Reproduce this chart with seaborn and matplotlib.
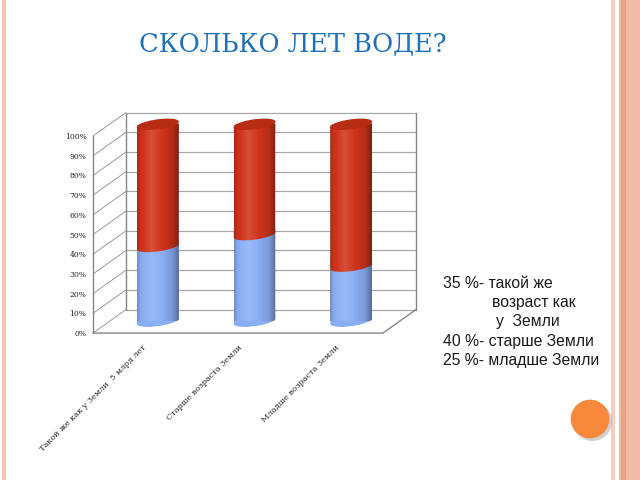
import matplotlib
matplotlib.use("Agg")
import matplotlib.pyplot as plt
from matplotlib.patches import Polygon, Rectangle, Circle
import numpy as np
import pandas as pd
import seaborn as sns

title = "СКОЛЬКО ЛЕТ ВОДЕ?"
categories = ["Такой же как у Земли  5 млрд лет", "Старше возраста Земли", "Младше возраста Земли"]
blue_share = [38, 44, 28]
red_share = [62, 56, 72]
y_ticks = list(range(0, 101, 10))
y_tick_labels = [f"{t}%" for t in y_ticks]
notes = ["35 %- такой же", "возраст как", "у  Земли", "40 %- старше Земли", "25 %- младше Земли"]
note_indent = [0, 49, 53, 0, 0]

BLUE = "#8AAEF5"
RED = "#CF331A"
RED_TOP = "#B62C14"
TITLE_BLUE = "#1F70B8"

W, H = 640, 480
sns.set_theme(style="white")
plt.rcParams["font.family"] = ["DejaVu Serif"]

fig = plt.figure(figsize=(6.4, 4.8), dpi=100)
fig.patch.set_facecolor("white")

# the axes is the middle (depth) plane of the 3d box, in slide pixels
x_left, x_right, y_zero, y_full = 109.5, 399.5, 321.3, 124.3
ax = fig.add_axes([x_left / W, 1 - y_zero / H, (x_right - x_left) / W, (y_zero - y_full) / H])

df = pd.DataFrame({"cat": categories, "blue": blue_share, "red": red_share})
df["total"] = df["blue"] + df["red"]

bar_w = 0.434
sns.barplot(data=df, x="cat", y="total", color=RED, saturation=1, width=bar_w,
            errorbar=None, linewidth=0, edgecolor="none", ax=ax, zorder=3)
sns.barplot(data=df, x="cat", y="blue", color=BLUE, saturation=1, width=bar_w,
            errorbar=None, linewidth=0, edgecolor="none", ax=ax, zorder=3)
red_bars = ax.patches[:3]
blue_bars = ax.patches[3:6]

px_x = 3 / (x_right - x_left)
px_y = 100 / (y_zero - y_full)
dx, dy = 16.5 * px_x, 11.75 * px_y   # half depth of the box

# box: back wall, side wall, floor
for t in y_ticks:
    ax.plot([-0.5 + dx, 2.5 + dx], [t + dy, t + dy], color="#a8a8a8", lw=0.9, zorder=1, clip_on=False)
    ax.plot([-0.5 - dx, -0.5 + dx], [t - dy, t + dy], color="#8a8a8a", lw=0.6, zorder=1, clip_on=False)
frame_kw = dict(color="#858585", lw=1.0, zorder=1, clip_on=False)
ax.plot([-0.5 + dx, -0.5 + dx], [dy, 100 + dy], **frame_kw)
ax.plot([2.5 + dx, 2.5 + dx], [dy, 100 + dy], **frame_kw)
ax.plot([-0.5 - dx, -0.5 - dx], [-dy, 100 - dy], **frame_kw)
ax.plot([-0.5 - dx, 2.5 - dx, 2.5 + dx], [-dy, -dy, dy], **frame_kw)

# cylinder geometry
a, b, h = 18.4, 10.0, 5.7
t0 = np.arctan2(b, a)
lower = np.linspace(t0 + np.pi, t0 + 2 * np.pi, 80)
upper = np.linspace(t0, t0 + np.pi, 80)
full = np.linspace(0, 2 * np.pi, 160)


def ellipse(xc, yc, t):
    return np.column_stack([xc + (a * np.cos(t) + b * np.sin(t)) * px_x, yc + h * np.sin(t) * px_y])


def cap(xc, yc, reach):
    arc = ellipse(xc, yc, lower)
    return np.vstack([arc, [[xc + bar_w / 2, yc + reach], [xc - bar_w / 2, yc + reach]]])


def clip_to(artist, shape):
    artist.set_clip_path(shape)
    artist.set_clip_box(None)


u = np.linspace(0, 1, 200)
shade = np.interp(u, [0, 0.08, 0.35, 0.6, 0.85, 1.0], [-0.2, -0.04, 0.14, 0.0, -0.14, -0.38])
rgba = np.zeros((1, len(u), 4))
rgba[0, :, :3] = np.where(shade[:, None] > 0, 1.0, 0.0)
rgba[0, :, 3] = np.abs(shade)

ext = 7 * px_y
for i in range(len(categories)):
    bv = blue_share[i]
    top = blue_share[i] + red_share[i]
    sil = Polygon(np.vstack([ellipse(i, 0, lower), ellipse(i, top, upper)]), closed=True,
                  facecolor="none", edgecolor="none", zorder=0)
    ax.add_patch(sil)
    clip_to(red_bars[i], sil)
    clip_to(blue_bars[i], sil)
    pieces = [
        (cap(i, 0, ext), BLUE, 3.1),
        (cap(i, bv, -ext), BLUE, 3.1),
        (cap(i, bv, ext), RED, 3.2),
        (cap(i, top, -ext), RED, 3.2),
    ]
    for verts, col, z in pieces:
        p = Polygon(verts, closed=True, facecolor=col, edgecolor="none", zorder=z)
        ax.add_patch(p)
        clip_to(p, sil)
    im = ax.imshow(rgba, extent=[i - bar_w / 2, i + bar_w / 2, -8 * px_y, top + 8 * px_y],
                   aspect="auto", interpolation="bilinear", zorder=3.5)
    clip_to(im, sil)
    ax.add_patch(Polygon(ellipse(i, top, full), closed=True, facecolor=RED_TOP,
                         edgecolor="none", zorder=3.6, clip_on=False))

ax.set_xlim(-0.5, 2.5)
ax.set_ylim(0, 100)
ax.axis("off")

for t, lab in zip(y_ticks, y_tick_labels):
    ax.text(-0.5 - dx - 6.5 * px_x, t - dy - 1 * px_y, lab, ha="right", va="center",
            fontsize=5.5, color="#222222", clip_on=False)

for i, cat in enumerate(categories):
    ax.text(i - 13 * px_x, -25 * px_y, cat, rotation=45, rotation_mode="anchor",
            ha="right", va="center", fontsize=5.9, color="#222222", clip_on=False)

fig.text(292.5 / W, 1 - 51.7 / H, title, ha="center", va="baseline", fontsize=18.5,
         color=TITLE_BLUE, family="DejaVu Serif")

note_y = [283, 302.5, 321.5, 341.5, 360.5]
for line, ind, yy in zip(notes, note_indent, note_y):
    fig.text((442.7 + ind) / W, 1 - yy / H, line, ha="left", va="center", fontsize=11.3,
             color="#1a1a1a", family="Liberation Sans")

# slide decoration
inch = fig.dpi_scale_trans
fig.add_artist(Rectangle((0.02, 0), 0.04, 4.8, transform=inch, facecolor="#F5C3B3", edgecolor="none"))
fig.add_artist(Rectangle((6.11, 0), 0.04, 4.8, transform=inch, facecolor="#F7CDBF", edgecolor="none"))
fig.add_artist(Rectangle((6.185, 0), 0.215, 4.8, transform=inch, facecolor="#F2BBA8", edgecolor="none"))
fig.add_artist(Rectangle((6.21, 0), 0.045, 4.8, transform=inch, facecolor="#EDA189", edgecolor="none"))
fig.add_artist(Circle((5.925, 0.585), 0.195, transform=inch, facecolor="#9a9a9a", alpha=0.45, edgecolor="none"))
fig.add_artist(Circle((5.90, 0.61), 0.193, transform=inch, facecolor="#F7883C", edgecolor="none"))

fig.savefig("out.png", dpi=100)
